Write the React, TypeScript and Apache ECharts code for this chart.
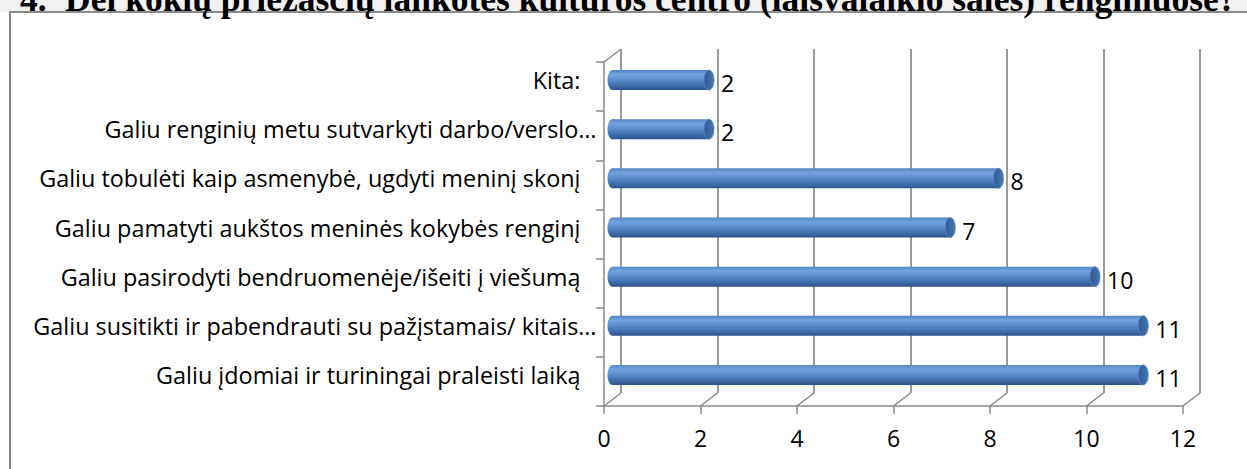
import React, { useEffect, useRef } from "react";
import * as echarts from "echarts";

const titleNumber = "4.";
const titleText = "Dėl kokių priežasčių lankotės kultūros centro (laisvalaikio salės) renginiuose?";

// bottom to top
const categories = [
  "Galiu įdomiai ir turiningai praleisti laiką",
  "Galiu susitikti ir pabendrauti su pažįstamais/ kitais…",
  "Galiu pasirodyti bendruomenėje/išeiti į viešumą",
  "Galiu pamatyti aukštos meninės kokybės renginį",
  "Galiu tobulėti kaip asmenybė, ugdyti meninį skonį",
  "Galiu renginių metu sutvarkyti darbo/verslo…",
  "Kita:",
];
const values = [11, 11, 10, 7, 8, 2, 2];
const xTicks = [0, 2, 4, 6, 8, 10, 12];

const FONT = '"Open Sans", sans-serif';
const DEPTH_X = 17;
const DEPTH_Y = 13;
const FRONT = { left: 604, top: 62, width: 579, height: 344 };

export default function App() {
  const ref = useRef<HTMLDivElement>(null);
  useEffect(() => {
    if (!ref.current) return;
    const chart = echarts.init(ref.current, undefined, { renderer: "svg" });
    const back = { left: FRONT.left + DEPTH_X, top: FRONT.top - DEPTH_Y, width: FRONT.width, height: FRONT.height };
    const mid = { left: FRONT.left + DEPTH_X / 2, top: FRONT.top - DEPTH_Y / 2, width: FRONT.width, height: FRONT.height };
    const axisColor = "#8a8a8a";
    const bodyGrad = () =>
      new echarts.graphic.LinearGradient(0, 0, 0, 1, [
        { offset: 0, color: "#5284c4" },
        { offset: 0.22, color: "#72a2de" },
        { offset: 0.45, color: "#5e90d0" },
        { offset: 0.75, color: "#4172b0" },
        { offset: 1, color: "#2c5288" },
      ]);
    const capGrad = () =>
      new echarts.graphic.LinearGradient(0, 0, 1, 0, [
        { offset: 0, color: "#2f5b94" },
        { offset: 1, color: "#4675b2" },
      ]);
    const labelStyle = { color: "#000", fontSize: 23.4, fontFamily: FONT };
    const option: any = {
      animation: false,
      backgroundColor: "#ffffff",
      grid: [
        { ...FRONT, containLabel: false },
        { ...back, containLabel: false },
        { ...mid, containLabel: false },
        { ...FRONT, containLabel: false },
      ],
      xAxis: [
        {
          gridIndex: 0,
          type: "value",
          min: 0,
          max: 12,
          interval: 2,
          axisLine: { show: true, lineStyle: { color: axisColor, width: 1.5 } },
          axisTick: { show: true, length: 8, lineStyle: { color: axisColor, width: 1.5 } },
          axisLabel: { color: "#000", fontSize: 23, fontFamily: FONT, margin: 20 },
          splitLine: { show: false },
        },
        {
          gridIndex: 1,
          type: "value",
          min: 0,
          max: 12,
          interval: 2,
          axisLine: { show: false },
          axisTick: { show: false },
          axisLabel: { show: false },
          splitLine: { show: true, lineStyle: { color: "#9a9a9a", width: 2 } },
        },
        { gridIndex: 2, type: "value", min: 0, max: 12, interval: 2, show: false },
        { gridIndex: 3, type: "value", min: 0, max: 12, interval: 2, show: false },
      ],
      yAxis: [
        {
          gridIndex: 0,
          type: "category",
          data: categories,
          axisLine: { show: true, lineStyle: { color: axisColor, width: 1.5 } },
          axisTick: { show: true, length: 8, lineStyle: { color: axisColor, width: 1.5 } },
          axisLabel: { show: false },
        },
        { gridIndex: 1, type: "category", data: categories, show: false },
        {
          gridIndex: 2,
          type: "category",
          data: categories,
          axisLine: { show: false },
          axisTick: { show: false },
          axisLabel: {
            ...labelStyle,
            margin: 16,
            formatter: (v: string) => (v.endsWith("…") ? `{t|${v}}` : `{n|${v}}`),
            rich: {
              n: { ...labelStyle, padding: [0, 16, 0, 0] },
              t: { ...labelStyle },
            },
          },
        },
        { gridIndex: 3, type: "value", min: 0, max: 1, show: false },
      ],
      graphic: [
        { type: "rect", z: -10, shape: { x: 0, y: 0, width: 1247, height: 12 }, style: { fill: "#f1f1f1" } },
        {
          type: "rect",
          z: -9,
          shape: { x: 10, y: 12, width: 1400, height: 600 },
          style: { fill: "#ffffff", stroke: "#8a8a8a", lineWidth: 2 },
        },
        {
          type: "text",
          z: 100,
          x: 20,
          y: -1,
          style: { text: titleNumber, font: 'bold 35.5px "Liberation Serif"', fill: "#000", verticalAlign: "middle" },
        },
        {
          type: "text",
          z: 100,
          x: 65,
          y: -1,
          style: { text: titleText, font: 'bold 35.5px "Liberation Serif"', fill: "#000", verticalAlign: "middle" },
        },
      ],
      series: [
        {
          type: "custom",
          xAxisIndex: 3,
          yAxisIndex: 3,
          z: 1,
          data: xTicks.map((t) => [t, 0]),
          renderItem: (params: any, api: any) => {
            const p = api.coord([api.value(0), 0]);
            const children: any[] = [
              {
                type: "line",
                shape: { x1: p[0], y1: p[1], x2: p[0] + DEPTH_X, y2: p[1] - DEPTH_Y },
                style: { stroke: axisColor, lineWidth: 1.5 },
              },
            ];
            if (params.dataIndex === 0) {
              const q = api.coord([0, 1]);
              children.push({
                type: "line",
                shape: { x1: q[0], y1: q[1], x2: q[0] + DEPTH_X, y2: q[1] - DEPTH_Y },
                style: { stroke: axisColor, lineWidth: 1.5 },
              });
            }
            return { type: "group", children };
          },
        },
        {
          type: "custom",
          xAxisIndex: 2,
          yAxisIndex: 2,
          z: 5,
          data: values.map((v, i) => [v, i]),
          renderItem: (params: any, api: any) => {
            const v = api.value(0);
            const c = api.value(1);
            const s = api.coord([0, c]);
            const e = api.coord([v, c]);
            const h = 20;
            const rx = 5;
            return {
              type: "group",
              children: [
                { type: "ellipse", shape: { cx: s[0], cy: s[1], rx, ry: h / 2 }, style: { fill: bodyGrad() } },
                { type: "rect", shape: { x: s[0], y: s[1] - h / 2, width: e[0] - s[0], height: h }, style: { fill: bodyGrad() } },
                {
                  type: "ellipse",
                  shape: { cx: e[0], cy: e[1], rx, ry: h / 2 },
                  style: { fill: capGrad(), stroke: "#5a88c4", lineWidth: 0.8 },
                },
                {
                  type: "text",
                  x: e[0] + rx + 7,
                  y: e[1] + 3,
                  style: { text: String(v), font: `23px ${FONT}`, fill: "#000", verticalAlign: "middle" },
                },
              ],
            };
          },
        },
      ],
    };
    chart.setOption(option);
    return () => chart.dispose();
  }, []);
  return (
    <div
      ref={ref}
      style={{ position: "absolute", left: 0, top: 0, width: 1247, height: 469, overflow: "hidden" }}
    />
  );
}
